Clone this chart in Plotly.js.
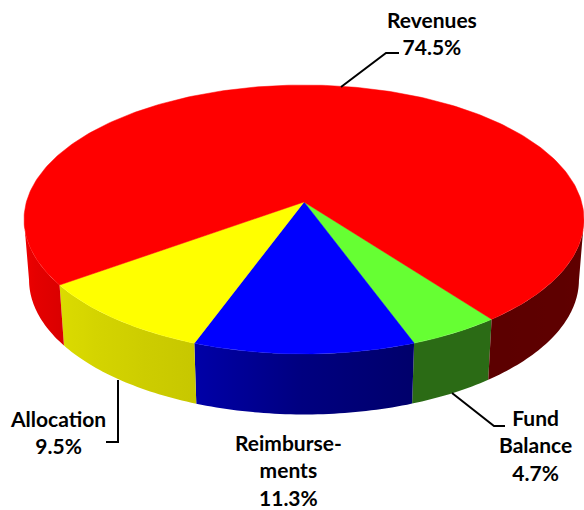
<!DOCTYPE html>
<html><head><meta charset="utf-8">
<script src="https://cdn.plot.ly/plotly-3.0.1.min.js"></script>
<style>html,body{margin:0;padding:0;background:#fff}#c{width:584px;height:510px}</style>
</head><body><div id="c"></div>
<script>
const labels = ["Fund Balance","Reimbursements","Allocation","Revenues"];
const labelText = ["Fund<br>Balance","Reimburse-<br>ments","Allocation","Revenues"];
const values = [4.7,11.3,9.5,74.5];
const topColors = ["#66ff33","#0000ff","#ffff00","#ff0000"];
const startDeg = 52.7;
const centerX=304, centerY=202, radX=277.6, radY=132.2, persp=0.13, depth=60.5, shrink=0.982;
const shadeAngles = [-60, 7, 52.6, 52.8, 69.5, 69.7, 90, 110.2, 110.4, 144.4, 144.6, 172, 240];
const shadeValues = [0.38,0.38,0.36,0.42,0.42,0.42,0.5,0.66,0.78,0.86,0.86,0.95,0.95];

function proj(deg){
  const t=deg*Math.PI/180,u=Math.cos(t),v=Math.sin(t),w=1-persp*v;
  return [centerX+radX*u/w, centerY+radY*v/w];
}
function shadeAt(d){
  d=((d+60)%360+360)%360-60;
  for(let i=1;i<shadeAngles.length;i++){
    if(d<=shadeAngles[i]){
      const f=(d-shadeAngles[i-1])/(shadeAngles[i]-shadeAngles[i-1]);
      return shadeValues[i-1]+f*(shadeValues[i]-shadeValues[i-1]);
    }
  }
  return shadeValues[shadeValues.length-1];
}
function mul(hex,s){
  const n=parseInt(hex.slice(1),16);
  return `rgb(${Math.round((n>>16&255)*s)},${Math.round((n>>8&255)*s)},${Math.round((n&255)*s)})`;
}
function wallTrace(b0,b1,hex){
  const n=Math.max(6,Math.ceil(b1-b0));
  const topPts=[],botPts=[],samples=[];
  for(let j=0;j<=n;j++){
    const d=b0+(b1-b0)*j/n,p=proj(d);
    topPts.push(p);
    botPts.push([centerX+(p[0]-centerX)*shrink,p[1]+depth]);
    samples.push([p[0],shadeAt(Math.min(b1-0.3,Math.max(b0+0.3,d)))]);
  }
  const poly=topPts.concat(botPts.slice().reverse());
  poly.push(poly[0]);
  samples.sort((a,b)=>a[0]-b[0]);
  const xmin=Math.min(...poly.map(p=>p[0])),xmax=Math.max(...poly.map(p=>p[0]));
  const stops=[[0,mul(hex,samples[0][1])]];
  samples.forEach((s,idx)=>{
    if(idx%4!==0) return;
    const f=(s[0]-xmin)/(xmax-xmin);
    if(f>stops[stops.length-1][0]+0.02 && f<0.98) stops.push([f,mul(hex,s[1])]);
  });
  stops.push([1,mul(hex,samples[samples.length-1][1])]);
  return {x:poly.map(p=>p[0]),y:poly.map(p=>p[1]),mode:'none',fill:'toself',
    fillgradient:{type:'horizontal',start:xmin,stop:xmax,colorscale:stops},hoverinfo:'skip',showlegend:false};
}
const total=values.reduce((a,b)=>a+b,0);
const walls=[],tops=[];
let a0=startDeg;
values.forEach((val,i)=>{
  const a1=a0+val/total*360;
  const wx=[centerX],wy=[centerY];
  const n=Math.ceil(a1-a0);
  for(let k=0;k<=n;k++){const p=proj(a0+(a1-a0)*k/n);wx.push(p[0]);wy.push(p[1]);}
  wx.push(centerX);wy.push(centerY);
  tops.push({x:wx,y:wy,mode:'lines',fill:'toself',fillcolor:topColors[i],line:{color:topColors[i],width:0.5},hoverinfo:'text',text:labels[i]+' '+val+'%',showlegend:false});
  let run=null;
  for(let k=0;k<=n;k++){
    const d=a0+(a1-a0)*k/n;
    const vis=Math.sin(d*Math.PI/180)>persp-0.005;
    if(vis){ if(run===null) run=[d,d]; else run[1]=d; }
    if((!vis||k===n)&&run){ walls.push(wallTrace(run[0],run[1],topColors[i])); run=null; }
  }
  a0=a1;
});
const leaderX=[[341,386,399],[452,494,505],[118,118,106]];
const leaderY=[[87,53,53],[393,426,426],[380,442,442]];
const leaders=leaderX.map((x,i)=>({x,y:leaderY[i],mode:'lines',line:{color:'#000',width:2},hoverinfo:'skip',showlegend:false}));
const labelX=[535.5,288,58,431.5], labelY=[445,470,432,33];
const font={family:'Lato, sans-serif',size:21,color:'#000',weight:700};
const annotations=values.map((v,i)=>({xref:'x',yref:'y',x:labelX[i],y:labelY[i],text:labelText[i]+'<br>'+v+'%',showarrow:false,font,align:'center',xanchor:'center',yanchor:'middle'}));
Plotly.newPlot('c',[...walls,...tops,...leaders],{
  width:584,height:510,margin:{l:0,r:0,t:0,b:0},paper_bgcolor:'#fff',plot_bgcolor:'#fff',
  xaxis:{range:[0,584],visible:false,fixedrange:true},
  yaxis:{range:[510,0],visible:false,fixedrange:true},
  annotations,showlegend:false
},{displayModeBar:false,staticPlot:true});
</script></body></html>
